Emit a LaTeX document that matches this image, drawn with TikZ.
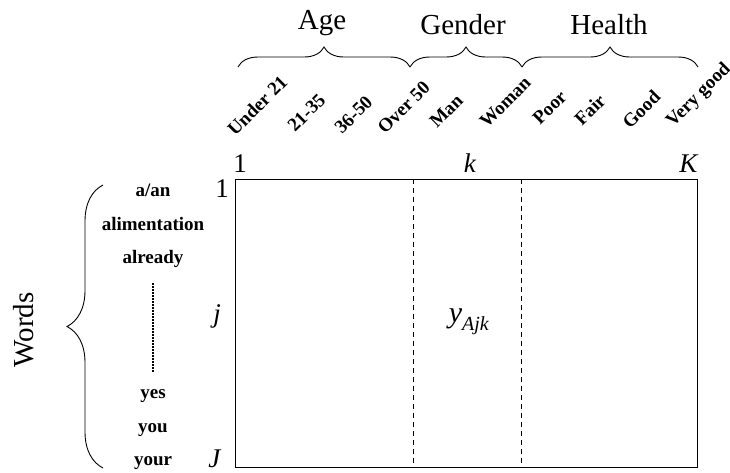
\documentclass[tikz,border=0pt]{standalone}
\usepackage{fontspec}
\setmainfont{Liberation Serif}
\usetikzlibrary{decorations.pathreplacing}

\tikzset{
  grouplabel/.style={font=\fontsize{29}{30}\selectfont, anchor=base, inner sep=0pt},
  catlabel/.style={font=\fontsize{19}{19}\selectfont\bfseries, rotate=45, anchor=base west, inner sep=0pt},
  wordlabel/.style={font=\fontsize{19}{19}\selectfont\bfseries, anchor=base, inner sep=0pt},
  idxlabel/.style={font=\fontsize{27}{27}\selectfont, anchor=base, inner sep=0pt},
  groupbrace/.style={decorate, decoration={brace, amplitude=20pt}, line width=0.9pt},
  wordbrace/.style={decorate, decoration={brace, amplitude=36pt}, line width=0.9pt},
  sepline/.style={dash pattern=on 5pt off 4pt, line width=0.9pt},
  dotline/.style={dash pattern=on 1.5pt off 1.5pt, line width=2pt}
}

\begin{document}
\begin{tikzpicture}[x=1pt, y=-1pt]
  \useasboundingbox (0,0) rectangle (730,472);

  % data table
  \node[draw, line width=1.3pt, anchor=north west, inner sep=0pt,
        minimum width=462pt, minimum height=288pt] (table) at (235,179) {};
  \coordinate (colA) at (413,179);
  \coordinate (colB) at (521,179);
  \draw[sepline] (colA) -- (colA |- table.south);
  \draw[sepline] (colB) -- (colB |- table.south);
  \node[idxlabel, font=\fontsize{30}{30}\selectfont] (cell) at (469,322)
    {\textit{y}\raisebox{-8pt}{\fontsize{20}{20}\selectfont\textit{Ajk}}};

  % column indices
  \node[idxlabel] (col1) at (240,172) {1};
  \node[idxlabel] (colk) at (470,172) {\textit{k}};
  \node[idxlabel] (colK) at (689,172) {\textit{K}};

  % row indices
  \node[idxlabel] (row1) at (222,197) {1};
  \node[idxlabel] (rowj) at (217,322) {\textit{j}};
  \node[idxlabel] (rowJ) at (215,467) {\textit{J}};

  % categories
  \foreach \x/\y/\name in {235/137/Under 21, 295/133/21-35, 342/135/36-50,
      385/135/Over 50, 437/129/Man, 487/129/Woman, 540/126/Poor,
      582/127/Fair, 630/130/Good, 673/128/Very good}
    \node[catlabel] at (\x,\y) {\name};

  % groups of categories
  \coordinate (g0) at (238,67);
  \coordinate (g1) at (410,67);
  \coordinate (g2) at (522,67);
  \coordinate (g3) at (698,67);
  \draw[groupbrace] (g0) -- (g1);
  \draw[groupbrace] (g1) -- (g2);
  \draw[groupbrace] (g2) -- (g3);
  \node[grouplabel] (age) at (322,29) {Age};
  \node[grouplabel] (gender) at (463,34) {Gender};
  \node[grouplabel] (health) at (609,34) {Health};

  % words
  \node[wordlabel] (w1) at (153,196) {a/an};
  \node[wordlabel] (w2) at (153,230) {alimentation};
  \node[wordlabel] (w3) at (153,263) {already};
  \node[wordlabel] (w4) at (153,398) {yes};
  \node[wordlabel] (w5) at (153,432) {you};
  \node[wordlabel] (w6) at (153,465) {your};
  \coordinate (dottop) at (153,283);
  \coordinate (dotbot) at (153,373);
  \draw[dotline] (dottop) -- (dotbot);

  \coordinate (wtop) at (103,185);
  \coordinate (wbot) at (103,468);
  \draw[wordbrace] (wbot) -- (wtop);
  \node[grouplabel, rotate=90, anchor=center] (words) at (24,330) {Words};
\end{tikzpicture}
\end{document}
